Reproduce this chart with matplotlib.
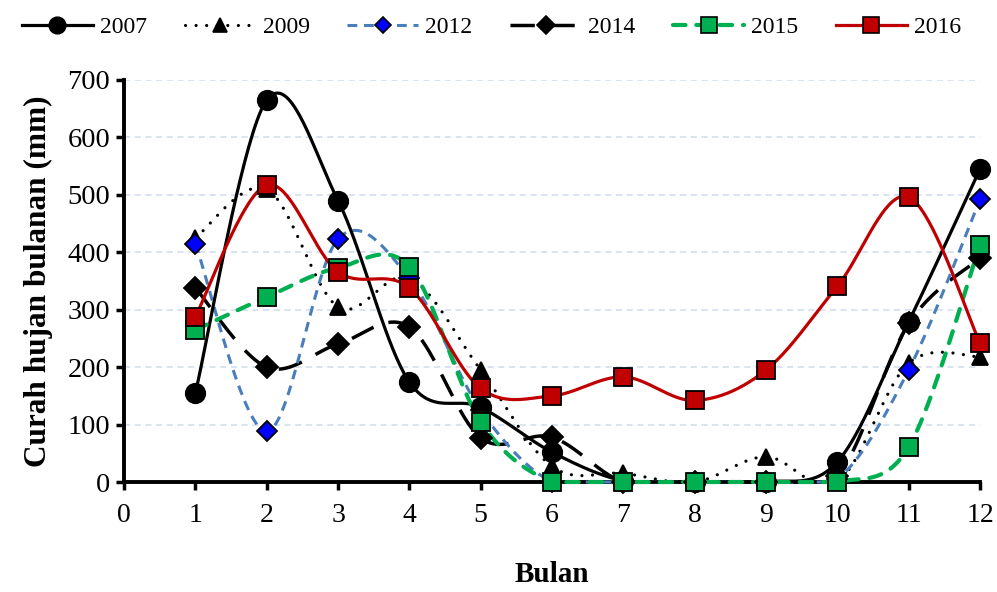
import numpy as np
import matplotlib
matplotlib.use("Agg")
import matplotlib.pyplot as plt
from matplotlib.lines import Line2D


# Monthly rainfall (mm), months 1..12
months = np.arange(1, 13)

rain_2007 = [155, 665, 490, 174, 130, 52, 2, 0, 0, 35, 279, 545]
rain_2009 = [425, 510, 305, 355, 195, 27, 15, 0, 44, 0, 207, 218]
rain_2012 = [415, 88, 423, 355, 125, 0, 0, 0, 0, 5, 195, 492]
rain_2014 = [338, 200, 240, 270, 77, 78, 0, 0, 0, 10, 276, 390]
rain_2015 = [265, 322, 373, 375, 105, 0, 0, 0, 0, 0, 61, 413]
rain_2016 = [288, 517, 366, 338, 163, 150, 183, 142, 195, 341, 496, 242]

years = ["2007", "2009", "2012", "2014", "2015", "2016"]
x_ticks = list(range(0, 13))
y_ticks = list(range(0, 701, 100))

plt.rcParams['font.family'] = ['Liberation Serif', 'DejaVu Serif']


def smooth(x, y, n=40):
    # Catmull-Rom style bezier through every point (spreadsheet "smoothed line")
    x = np.asarray(x, float)
    y = np.asarray(y, float)
    px = np.concatenate([[x[0]], x, [x[-1]]])
    py = np.concatenate([[y[0]], y, [y[-1]]])
    t = np.linspace(0, 1, n)
    xs, ys = [], []
    for i in range(1, len(px) - 2):
        p0 = np.array([px[i], py[i]])
        p3 = np.array([px[i + 1], py[i + 1]])
        c1 = p0 + (np.array([px[i + 1], py[i + 1]]) - np.array([px[i - 1], py[i - 1]])) / 6
        c2 = p3 - (np.array([px[i + 2], py[i + 2]]) - np.array([px[i], py[i]])) / 6
        b = ((1 - t)**3)[:, None] * p0 + (3 * (1 - t)**2 * t)[:, None] * c1 \
            + (3 * (1 - t) * t**2)[:, None] * c2 + (t**3)[:, None] * p3
        xs.append(b[:, 0])
        ys.append(b[:, 1])
    # the plot area stops at zero, so keep the curve from dipping under it
    return np.concatenate(xs), np.maximum(np.concatenate(ys), 0)


# z sets the stacking: 2014 lowest, then 2009, 2012, 2007, 2015, 2016 on top
styles = [
    dict(color="black", lw=2.3, ls="-", marker="o", ms=14, mfc="black", mec="black", cap="round", z=7),
    dict(color="black", lw=2.3, ls=(0, (0.01, 3.3)), marker="^", ms=12, mfc="black", mec="black", cap="round", z=5),
    dict(color="#4A7EBB", lw=2.2, ls=(0, (3.2, 2.2)), marker="D", ms=10, mfc="#0000FF", mec="black", cap="butt", z=6),
    dict(color="black", lw=2.5, ls=(0, (7, 4.5)), marker="D", ms=11, mfc="black", mec="black", cap="butt", z=4),
    dict(color="#00B050", lw=3.0, ls=(0, (3.0, 2.6)), marker="s", ms=13, mfc="#00B050", mec="black", cap="round", z=8),
    dict(color="#C00000", lw=2.3, ls="-", marker="s", ms=13, mfc="#C00000", mec="black", cap="round", z=9),
]
series = [rain_2007, rain_2009, rain_2012, rain_2014, rain_2015, rain_2016]

fig = plt.figure(figsize=(9.97, 5.92), dpi=100)
ax = fig.add_axes([0.1244, 0.1858, 0.8586, 0.6791])

handles = []
for vals, st in zip(series, styles):
    sx, sy = smooth(months, vals)
    ax.plot(sx, sy, color=st["color"], lw=st["lw"], ls=st["ls"],
            dash_capstyle=st["cap"], solid_capstyle="round", zorder=st["z"],
            clip_on=False)
    ax.plot(months, vals, ls="none", marker=st["marker"], ms=st["ms"],
            mfc=st["mfc"], mec=st["mec"], mew=1.3, zorder=st["z"] + 10, clip_on=False)
    handles.append(Line2D([], [], color=st["color"], lw=st["lw"], ls=st["ls"],
                          dash_capstyle=st["cap"], marker=st["marker"],
                          ms=st["ms"] * 0.85, mfc=st["mfc"], mec=st["mec"], mew=1.2))

ax.set_xlim(0, 12)
ax.set_ylim(0, 700)
ax.set_xticks(x_ticks)
ax.set_yticks(y_ticks)
ax.tick_params(axis="both", labelsize=20.5, width=2.5, length=6, direction="out")
ax.tick_params(axis="x", labelsize=20, pad=9)
ax.tick_params(axis="y", pad=4)

for s in ["top", "right"]:
    ax.spines[s].set_visible(False)
for s in ["left", "bottom"]:
    ax.spines[s].set_linewidth(2.8)
    ax.spines[s].set_zorder(2)

ax.yaxis.grid(True, color="#CFDBEE", lw=1.1, ls=(0, (4, 3)), zorder=0)
ax.set_axisbelow(True)

ax.set_ylabel("Curah hujan bulanan (mm)", fontsize=22.5, fontweight="bold", labelpad=10)
ax.set_xlabel("Bulan", fontsize=21, fontweight="bold", labelpad=24)

fig.legend(handles, years, loc="upper center", bbox_to_anchor=(0.493, 1.0),
           ncol=6, frameon=False, fontsize=17, handlelength=3.0,
           handletextpad=0.3, columnspacing=1.6, borderaxespad=0.3)

fig.savefig("out.png", dpi=100)
